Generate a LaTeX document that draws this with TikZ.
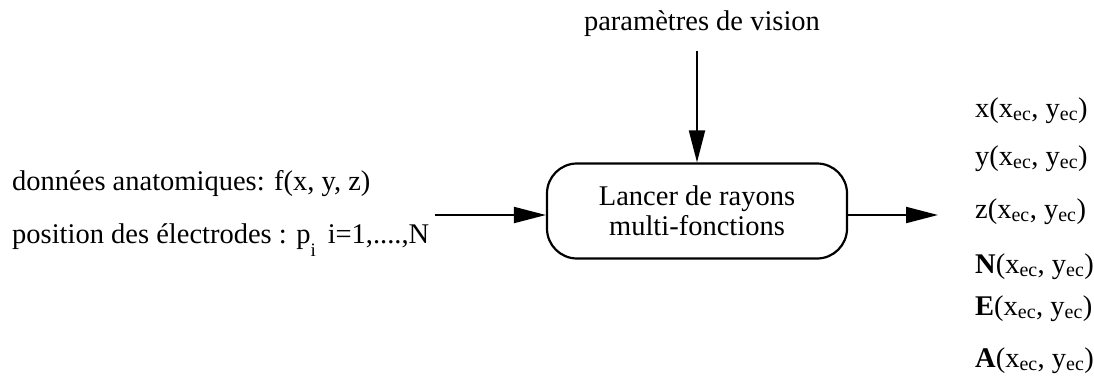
\documentclass[tikz,border=0pt]{standalone}
\usepackage{fontspec}
\setmainfont{Liberation Serif}
\usepackage{tikz}
\usetikzlibrary{arrows.meta,positioning}

\newcommand{\ec}[1]{#1(x\textsubscript{ec}, y\textsubscript{ec})}

\begin{document}
\begin{tikzpicture}[x=1pt,y=-1pt,
    font=\fontsize{28.5}{30}\selectfont,
    txt/.style={inner sep=0pt},
    raybox/.style={draw,line width=2.2pt,rounded corners=30pt,
      minimum width=300pt,minimum height=95pt,align=center,inner sep=0pt},
    flow/.style={line width=2pt,-{Triangle[length=32pt,width=16pt]}}]
  \useasboundingbox (0,0) rectangle (1094,383);
  % bloc central
  \node[raybox] (ray) at (697,211) {Lancer de rayons\\multi-fonctions};
  \node[txt,anchor=base] (vis) at (702,30) {paramètres de vision};
  % entrees
  \node[txt,anchor=base west] (anat) at (12,190) {données anatomiques: f(x, y, z)};
  \node[txt,anchor=base west] (elec) at (12,243)
    {position des électrodes : p\raisebox{-13pt}{\fontsize{19}{20}\selectfont i}\, i=1,....,N};
  \coordinate (ain) at (435,215);
  % sorties
  \foreach \n/\y/\t in {1/117/x,2/165/y,3/218/z,4/273/\textbf{N},5/315/\textbf{E},6/367/\textbf{A}}{
    \node[txt,anchor=base west] (out\n) at (975,\y) {\ec{\t}};
  }
  \coordinate (aout) at (938,215);
  \draw[flow,shorten <=15pt] (ray.north |- vis.south) -- (ray.north);
  \draw[flow] (ain) -- (ain -| ray.west);
  \draw[flow] (aout -| ray.east) -- (aout);
\end{tikzpicture}
\end{document}
